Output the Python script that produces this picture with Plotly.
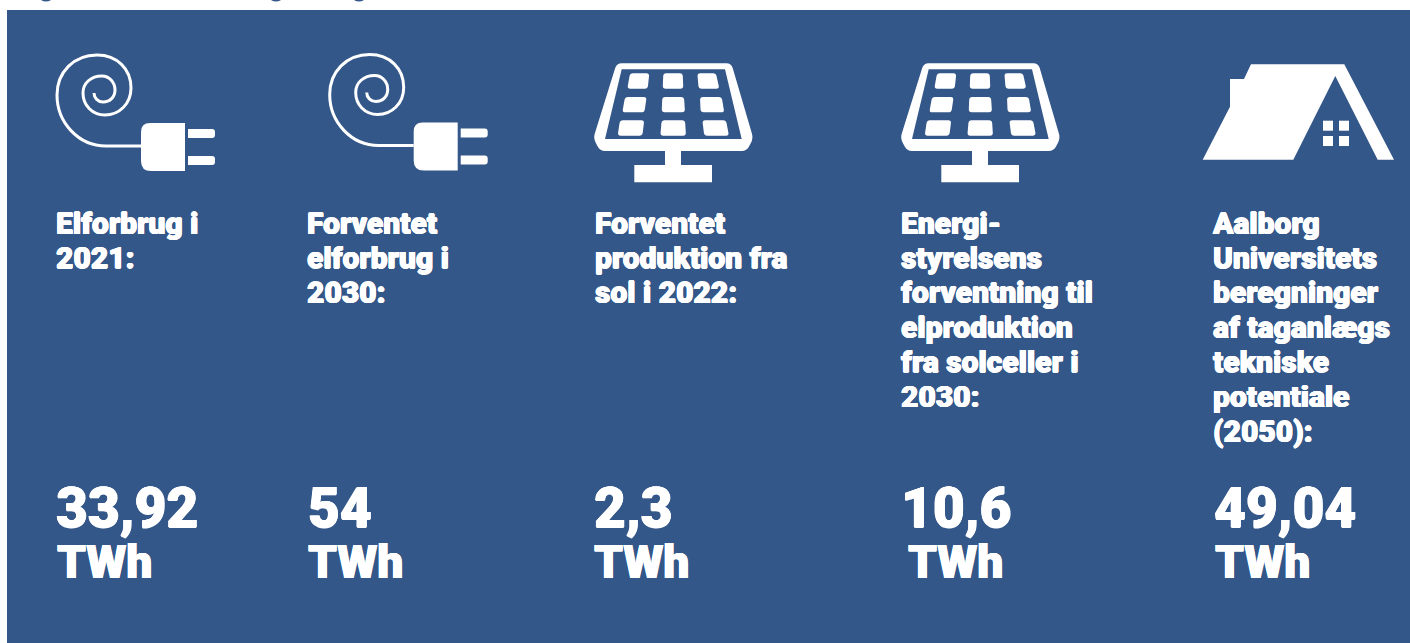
import math
import plotly.graph_objects as go

BG = "#34578A"
WHITE = "#FFFFFF"

column_labels = [
    ["Elforbrug i", "2021:"],
    ["Forventet", "elforbrug i", "2030:"],
    ["Forventet", "produktion fra", "sol i 2022:"],
    ["Energi-", "styrelsens", "forventning til", "elproduktion", "fra solceller i", "2030:"],
    ["Aalborg", "Universitets", "beregninger", "af taganlægs", "tekniske", "potentiale", "(2050):"],
]
column_values = ["33,92", "54", "2,3", "10,6", "49,04"]
unit = "TWh"

label_x = [56, 307, 595, 901, 1213]
value_x = [56, 308, 594, 901, 1214]
unit_x = [57, 308, 594, 908, 1215]
LABEL_TOP = 226
LABEL_STEP = 34.7
VALUE_Y = 513.5
UNIT_Y = 566.5
FAMILY = "Roboto"
SHADOW = "0.6px 0 0 #fff, -0.6px 0 0 #fff, 0 0.4px 0 #fff, 0 -0.4px 0 #fff"

fig = go.Figure()

for lines, lx in zip(column_labels, label_x):
    fig.add_trace(go.Scatter(
        x=[lx] * len(lines),
        y=[LABEL_TOP + i * LABEL_STEP for i in range(len(lines))],
        text=lines, mode="text", textposition="middle right",
        textfont=dict(family=FAMILY, size=30, color=WHITE, weight=900, shadow=SHADOW),
        hoverinfo="skip", showlegend=False,
    ))

fig.add_trace(go.Scatter(
    x=value_x, y=[VALUE_Y] * 5, text=column_values, mode="text",
    textposition="middle right",
    textfont=dict(family=FAMILY, size=55, color=WHITE, weight=900, shadow=SHADOW),
    hoverinfo="skip", showlegend=False,
))
fig.add_trace(go.Scatter(
    x=unit_x, y=[UNIT_Y] * 5, text=[unit] * 5, mode="text",
    textposition="middle right",
    textfont=dict(family=FAMILY, size=46, color=WHITE, weight=900, shadow=SHADOW),
    hoverinfo="skip", showlegend=False,
))


def poly(pts):
    return "M " + " L ".join(f"{x:.1f},{y:.1f}" for x, y in pts) + " Z"


def rounded(pts, r):
    n = len(pts)
    parts = []
    for i in range(n):
        px, py = pts[i - 1]
        cx, cy = pts[i]
        nx, ny = pts[(i + 1) % n]
        d1 = math.hypot(px - cx, py - cy)
        d2 = math.hypot(nx - cx, ny - cy)
        r1 = min(r, d1 / 2)
        r2 = min(r, d2 / 2)
        a = (cx + (px - cx) * r1 / d1, cy + (py - cy) * r1 / d1)
        b = (cx + (nx - cx) * r2 / d2, cy + (ny - cy) * r2 / d2)
        parts.append(("M" if i == 0 else "L") + f" {a[0]:.1f},{a[1]:.1f} Q {cx:.1f},{cy:.1f} {b[0]:.1f},{b[1]:.1f}")
    return " ".join(parts) + " Z"


shapes = []


def add(path, fill=WHITE, line=None, width=0):
    shapes.append(dict(type="path", path=path, xref="x", yref="y", layer="below",
                       fillcolor=fill, line=dict(color=line or fill, width=width)))


# panel background and cropped heading descenders
shapes.append(dict(type="rect", xref="x", yref="y", x0=7, x1=1410, y0=10, y1=643,
                   fillcolor=BG, line=dict(width=0), layer="below"))
for a, b in [(40, 52), (270, 282), (353, 365)]:
    shapes.append(dict(type="circle", xref="x", yref="y", x0=a, x1=b, y0=-6, y1=1.5,
                       fillcolor=BG, line=dict(width=0), layer="below"))


def plug(dx, dy):
    d = (f"M {141+dx},{146+dy} L {106+dx},{146+dy} "
         f"C {78+dx},{146+dy} {57+dx},{122+dy} {57+dx},{95+dy} "
         f"C {57+dx},{72+dy} {74+dx},{55+dy} {97+dx},{55+dy} "
         f"C {117+dx},{55+dy} {131+dx},{69+dy} {131+dx},{88+dy} "
         f"C {131+dx},{104+dy} {119+dx},{115+dy} {105+dx},{115+dy} "
         f"C {92+dx},{115+dy} {83+dx},{105+dy} {83+dx},{93+dy} "
         f"C {83+dx},{83+dy} {91+dx},{76+dy} {102+dx},{76+dy} "
         f"C {109+dx},{76+dy} {115+dx},{82+dy} {115+dx},{90+dy} "
         f"C {115+dx},{97+dy} {110+dx},{102+dy} {103+dx},{102+dy} "
         f"C {98+dx},{102+dy} {94+dx},{98+dy} {94+dx},{93+dy}")
    shapes.append(dict(type="path", path=d, xref="x", yref="y", layer="below",
                       line=dict(color=WHITE, width=3)))
    add(f"M {185+dx},{123+dy} L {150+dx},{123+dy} Q {141+dx},{123+dy} {141+dx},{132+dy} "
        f"L {141+dx},{161+dy} Q {141+dx},{171+dy} {151+dx},{171+dy} L {185+dx},{171+dy} Z")
    for y0 in (129, 156):
        add(f"M {188+dx},{y0+dy} L {212+dx},{y0+dy} Q {215+dx},{y0+dy} {215+dx},{y0+3+dy} "
            f"L {215+dx},{y0+6+dy} Q {215+dx},{y0+9+dy} {212+dx},{y0+9+dy} L {188+dx},{y0+9+dy} Z")


plug(0, 0)
plug(272.7, -0.5)


def solar(dx):
    t = lambda p: [(x / 3 + 580 + dx, y / 3 + 50) for x, y in p]
    add(rounded(t([(110, 40), (454, 40), (520, 265), (500, 303), (60, 303), (40, 265)]), 5))
    add(poly(t([(125, 58), (435, 58), (485, 267), (75, 267)])), fill=BG)
    cells = [
        [(150, 70), (208, 70), (203, 116), (142, 116)], [(250, 70), (308, 70), (310, 116), (248, 116)],
        [(352, 70), (408, 70), (418, 116), (356, 116)], [(135, 141), (200, 141), (193, 187), (127, 187)],
        [(247, 141), (312, 141), (315, 187), (245, 187)], [(360, 141), (425, 141), (433, 187), (362, 187)],
        [(120, 211), (193, 211), (187, 257), (113, 257)], [(245, 211), (315, 211), (318, 257), (241, 257)],
        [(367, 211), (438, 211), (447, 257), (373, 257)],
    ]
    for c in cells:
        add(rounded(t(c), 3))
    add(poly(t([(255, 303), (303, 303), (303, 345), (255, 345)])))
    add(poly(t([(163, 345), (396, 345), (396, 397), (163, 397)])))


solar(0)
solar(307)

h = lambda p: [(x / 3 + 1190, y / 3 + 50) for x, y in p]
add(poly(h([(183, 43), (463, 43), (612, 329), (563, 329), (436, 78), (310, 329), (38, 329),
            (120, 170), (120, 87), (162, 87)])))
for x0, y0 in [(399, 212), (447, 212), (399, 258), (447, 258)]:
    add(poly(h([(x0, y0), (x0 + 30, y0), (x0 + 30, y0 + 30), (x0, y0 + 30)])))

fig.update_layout(
    width=1410, height=643, margin=dict(l=0, r=0, t=0, b=0),
    paper_bgcolor="white", plot_bgcolor="white", shapes=shapes, showlegend=False,
    xaxis=dict(range=[0, 1410], visible=False, fixedrange=True),
    yaxis=dict(range=[643, 0], visible=False, fixedrange=True),
)
fig.write_html("out.html", config={"displayModeBar": False},
               post_script="document.body.style.margin='0';")
